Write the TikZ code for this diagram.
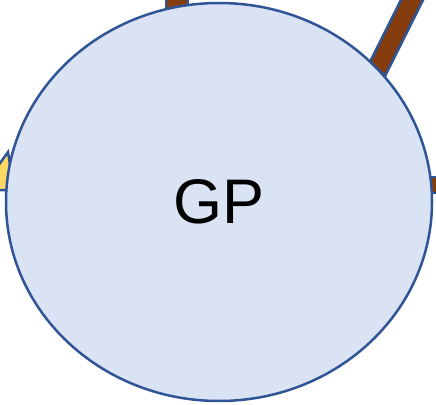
\documentclass[tikz,border=0pt]{standalone}
\usepackage{fontspec}
\setmainfont{Liberation Sans}
\usetikzlibrary{shapes.geometric}
\definecolor{edgeblue}{HTML}{2F5597}
\definecolor{fillblue}{HTML}{DAE3F3}
\definecolor{barbrown}{HTML}{843C0C}
\definecolor{tipyellow}{HTML}{FFD966}
\tikzset{
  bar/.style={fill=barbrown, draw=edgeblue, line width=2.5pt},
  tip/.style={fill=tipyellow, draw=edgeblue, line width=2.5pt},
  bigcircle/.style={ellipse, fill=fillblue, draw=edgeblue, line width=2.5pt,
    minimum width=426pt, minimum height=398pt, inner sep=0pt,
    font=\fontsize{63}{63}\selectfont}
}
\begin{document}
\begin{tikzpicture}[x=1pt,y=-1pt]
\useasboundingbox (0,0) rectangle (436,404);
\begin{scope}
\clip (0,0) rectangle (436,404);
\draw[bar] (166,-5) rectangle (188,30);
\draw[bar] (370,62) -- (402,-2) -- (424,-2) -- (385,76) -- cycle;
\draw[bar] (425,177) rectangle (440,193);
\draw[tip] (-5,170) -- (8,152) -- (14,190) -- (-5,190) -- cycle;
\node[bigcircle] (gp) at (219,202) {GP};
\end{scope}
\end{tikzpicture}
\end{document}
